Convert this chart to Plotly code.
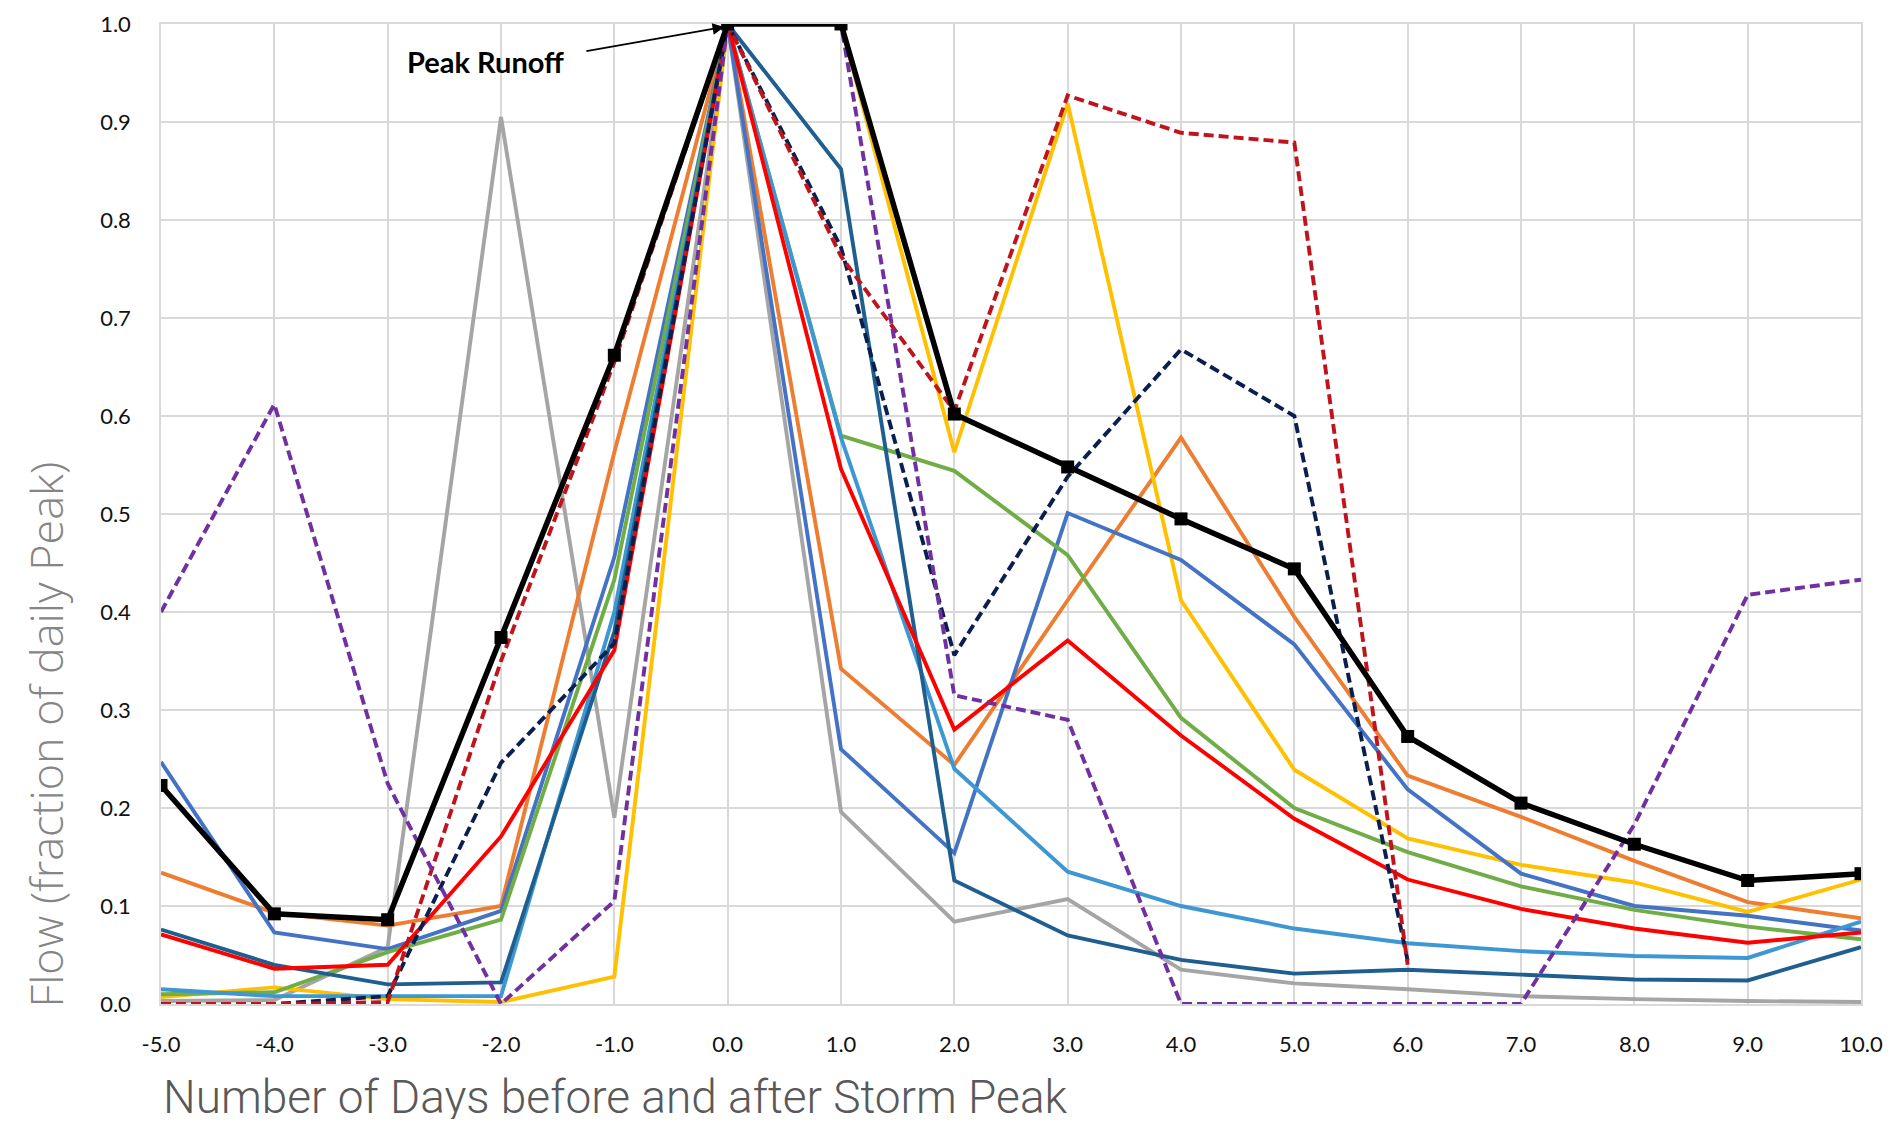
import plotly.graph_objects as go

days = [-5, -4, -3, -2, -1, 0, 1, 2, 3, 4, 5, 6, 7, 8, 9, 10]
x_tick_labels = ["-5.0", "-4.0", "-3.0", "-2.0", "-1.0", "0.0", "1.0", "2.0", "3.0", "4.0",
                 "5.0", "6.0", "7.0", "8.0", "9.0", "10.0"]
y_ticks = [0.0, 0.1, 0.2, 0.3, 0.4, 0.5, 0.6, 0.7, 0.8, 0.9, 1.0]
y_tick_labels = ["0.0", "0.1", "0.2", "0.3", "0.4", "0.5", "0.6", "0.7", "0.8", "0.9", "1.0"]

gray = [0.003, 0.004, 0.058, 0.905, 0.19, 1.0, 0.196, 0.084, 0.107, 0.035, 0.021, 0.015, 0.008, 0.005, 0.003, 0.002]
orange = [0.134, 0.093, 0.08, 0.1, 0.563, 1.0, 0.342, 0.244, 0.412, 0.578, 0.395, 0.233, 0.191, 0.146, 0.104, 0.0875]
yellow = [0.007, 0.017, 0.005, 0.002, 0.028, 1.0, 1.0, 0.563, 0.919, 0.412, 0.239, 0.169, 0.142, 0.124, 0.094, 0.127]
blue = [0.247, 0.073, 0.056, 0.095, 0.456, 1.0, 0.26, 0.154, 0.501, 0.453, 0.367, 0.219, 0.133, 0.1, 0.09, 0.075]
green = [0.01, 0.012, 0.053, 0.086, 0.433, 1.0, 0.58, 0.544, 0.458, 0.292, 0.2, 0.155, 0.12, 0.096, 0.079, 0.066]
light_blue = [0.015, 0.008, 0.008, 0.008, 0.40, 1.0, 0.578, 0.24, 0.135, 0.1, 0.077, 0.062, 0.054, 0.049, 0.047, 0.084]
teal = [0.076, 0.04, 0.02, 0.022, 0.38, 1.0, 0.852, 0.126, 0.07, 0.045, 0.031, 0.035, 0.03, 0.025, 0.024, 0.058]
red = [0.071, 0.036, 0.04, 0.171, 0.361, 1.0, 0.546, 0.28, 0.371, 0.274, 0.189, 0.127, 0.097, 0.077, 0.0625, 0.073]
navy_dashed = [0.0, 0.0, 0.008, 0.246, 0.368, 1.0, 0.772, 0.356, 0.538, 0.668, 0.600, 0.044, None, None, None, None]
red_dashed = [0.0, 0.0, 0.002, 0.35, 0.655, 1.0, 0.763, 0.605, 0.927, 0.889, 0.879, 0.04, None, None, None, None]
purple_dashed = [0.40, 0.612, 0.225, 0.0, 0.105, 1.0, 1.0, 0.315, 0.29, 0.0, 0.0, 0.0, 0.0, 0.183, 0.4175, 0.433]
peak_runoff = [0.223, 0.092, 0.086, 0.374, 0.662, 1.0, 1.0, 0.602, 0.548, 0.495, 0.444, 0.273, 0.205, 0.163, 0.126, 0.133]

solid_series = [
    ("gray", gray, "#A5A5A5"),
    ("orange", orange, "#ED7D31"),
    ("yellow", yellow, "#FFC000"),
    ("blue", blue, "#4472C4"),
    ("green", green, "#70AD47"),
    ("light blue", light_blue, "#3D97D3"),
    ("teal", teal, "#1F5F8F"),
    ("red", red, "#FF0000"),
]
dashed_series = [
    ("navy dashed", navy_dashed, "#0B1F4E"),
    ("red dashed", red_dashed, "#C0141C"),
    ("purple dashed", purple_dashed, "#7030A0"),
]

fig = go.Figure()
for name, vals, col in solid_series:
    fig.add_trace(go.Scatter(x=days, y=vals, mode="lines", name=name,
                             line=dict(color=col, width=3.9), connectgaps=False))
for name, vals, col in dashed_series:
    fig.add_trace(go.Scatter(x=days, y=vals, mode="lines", name=name,
                             line=dict(color=col, width=3.9, dash="10px,5px"), connectgaps=False))
fig.add_trace(go.Scatter(x=days, y=peak_runoff, mode="lines+markers", name="Peak Runoff",
                         line=dict(color="#000000", width=5.5),
                         marker=dict(symbol="square", size=13, color="#000000")))

tick_font = dict(family="Lato, 'Open Sans', sans-serif", size=22, color="#111111")

# page body has an 8px margin: figure is sized/offset to compensate
fig.update_layout(
    width=1879, height=1115,
    margin=dict(l=153, r=26, t=16, b=119, autoexpand=False),
    paper_bgcolor="white", plot_bgcolor="white",
    showlegend=False,
    xaxis=dict(range=[-5, 10], tickmode="array", tickvals=days, ticktext=x_tick_labels,
               showgrid=True, gridcolor="#D9D9D9", gridwidth=1.5, zeroline=False,
               showline=True, linecolor="#D9D9D9", linewidth=1.5, mirror=True, automargin=False,
               tickfont=tick_font, ticks="", ticklabelstandoff=20),
    yaxis=dict(range=[0, 1.0], tickmode="array", tickvals=y_ticks, ticktext=y_tick_labels,
               showgrid=True, gridcolor="#D9D9D9", gridwidth=1.5, zeroline=False,
               showline=True, linecolor="#D9D9D9", linewidth=1.5, mirror=True, automargin=False,
               tickfont=tick_font, ticks="", ticklabelstandoff=24),
    annotations=[
        dict(x=-2.14, y=0.962, xref="x", yref="y", text="<b>Peak Runoff</b>", showarrow=False,
             font=dict(family="Lato, 'Open Sans', sans-serif", size=29, color="#000000")),
        dict(x=-0.03, y=0.997, xref="x", yref="y", ax=-1.26, ay=0.972, axref="x", ayref="y",
             text="", showarrow=True, arrowhead=2, arrowsize=1.3, arrowwidth=1.8, arrowcolor="#000000"),
        dict(x=0.0, y=-0.095, xref="paper", yref="paper", xanchor="left", yanchor="middle",
             height=44, valign="middle",
             text="Number of Days before and after Storm Peak", showarrow=False,
             font=dict(family="Roboto, sans-serif", size=46, color="#595959", weight=300)),
        dict(x=-0.068, y=0.2755, xref="paper", yref="paper", xanchor="center", yanchor="middle",
             textangle=-90, text="Flow (fraction of daily Peak)", showarrow=False,
             font=dict(family="'Open Sans', sans-serif", size=45, color="#858585", weight=300)),
    ],
)

fig.write_html("out.html")
